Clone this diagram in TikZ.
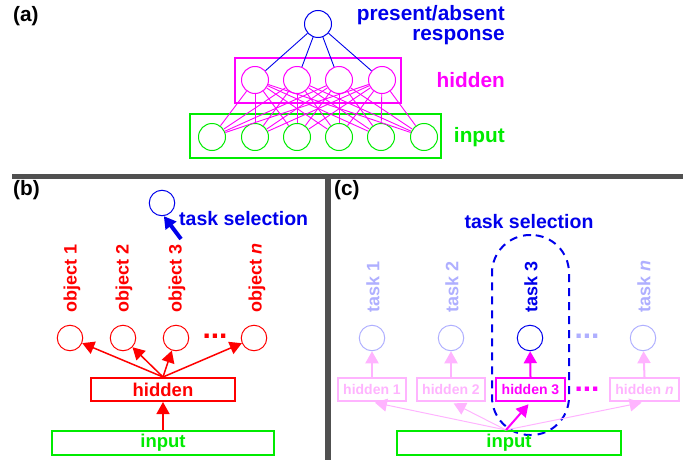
\documentclass[tikz,border=0pt]{standalone}
\usepackage{fontspec}
\setmainfont{Liberation Sans}
\usetikzlibrary{arrows.meta}
\definecolor{cblue}{RGB}{0,0,235}
\definecolor{cmag}{RGB}{255,0,255}
\definecolor{cgreen}{RGB}{0,235,0}
\definecolor{cred}{RGB}{255,0,0}
\definecolor{lblue}{RGB}{175,175,255}
\definecolor{lpink}{RGB}{255,180,255}
\definecolor{sepgray}{RGB}{80,80,80}
\begin{document}
\begin{tikzpicture}[x=1pt,y=-1pt,
  big/.style={font=\bfseries\fontsize{19.5}{22}\selectfont, inner sep=0pt},
  biga/.style={font=\bfseries\fontsize{20.8}{20}\selectfont, inner sep=0pt},
  mid/.style={font=\bfseries\fontsize{18.5}{22}\selectfont, inner sep=0pt},
  small/.style={font=\bfseries\fontsize{14}{16}\selectfont, inner sep=0pt},
  neuron/.style={circle, draw, line width=1pt, minimum size=27pt, inner sep=0pt},
  unit/.style={circle, draw, line width=1pt, minimum size=25.5pt, inner sep=0pt},
  box/.style={draw, line width=2pt, inner sep=0pt},
  tip/.style={-{Triangle[length=12pt,width=13pt]}},
  dotsty/.style={font=\bfseries\fontsize{30}{30}\selectfont, inner sep=0pt, anchor=base},
  vlab/.style={rotate=90, anchor=west, inner sep=0pt, font=\bfseries\fontsize{18}{20}\selectfont},
]
\useasboundingbox (0,0) rectangle (690,460);

% separators
\draw[sepgray, line width=5.5pt] (12,176.7) -- (683,176.7);
\draw[sepgray, line width=5.7pt] (328,174) -- (328,460);

% panel labels
\node[biga, anchor=base west] (pa) at (13,22) {(a)};
\node[biga, anchor=base west] (pb) at (13,195) {(b)};
\node[biga, anchor=base west] (pc) at (334,195) {(c)};

% ---------------- panel (a)
\node[box, draw=cmag, minimum width=166pt, minimum height=45pt] (ahbox) at (318,80.5) {};
\node[box, draw=cgreen, minimum width=251pt, minimum height=44pt] (aibox) at (315.5,136) {};
\node[neuron, draw=cblue] (aout) at (318,24) {};
\foreach \i/\x in {1/255,2/297,3/339,4/382}
  \node[neuron, draw=cmag] (ah\i) at (\x,80) {};
\foreach \j/\x in {1/212,2/255,3/297,4/339,5/381,6/424}
  \node[neuron, draw=cgreen] (ai\j) at (\x,137) {};
\foreach \i in {1,...,4} {
  \draw[cblue, line width=0.9pt] (aout) -- (ah\i);
  \foreach \j in {1,...,6}
    \draw[cmag, line width=0.9pt] (ah\i) -- (ai\j);
}
\node[biga, text=cblue, align=right, anchor=east] (la1) at (505,24.7) {present/absent\\response};
\node[biga, text=cmag, anchor=base east] (la3) at (505,87) {hidden};
\node[biga, text=cgreen, anchor=base east] (la4) at (505,142) {input};

% ---------------- panel (b)
\node[unit, draw=cblue] (bsel) at (162,203) {};
\node[big, text=cblue, anchor=base west] (bseltext) at (179,225) {task selection};
\coordinate (bselfrom) at (181,239);
\draw[cblue, line width=4pt, -{Triangle[length=12pt,width=13pt]}] (bselfrom) -- (bsel.-82);

\node[vlab, text=cred] (bl1) at (72,313) {object 1};
\node[vlab, text=cred] (bl2) at (124,313) {object 2};
\node[vlab, text=cred] (bl3) at (177,313) {object 3};
\node[vlab, text=cred] (bln) at (257,313) {object \textit{n}};

\node[unit, draw=cred] (bo1) at (70,338) {};
\node[unit, draw=cred] (bo2) at (123,338) {};
\node[unit, draw=cred] (bo3) at (176,338) {};
\node[unit, draw=cred] (bon) at (254,338) {};
\node[dotsty, text=cred] (bdots) at (215,338) {...};

\node[box, mid, draw=cred, text=cred, minimum width=144pt, minimum height=23pt] (bhid) at (163,389.5) {hidden};
\node[box, mid, draw=cgreen, text=cgreen, minimum width=222pt, minimum height=24pt] (binp) at (163,443) {input};
\foreach \o in {bo1,bo2,bo3,bon}
  \draw[cred, line width=1.5pt, tip] (bhid.north) -- (\o);
\draw[cred, line width=1.5pt, tip] (binp.north) -- (bhid.south);

% ---------------- panel (c)
\node[big, text=cblue, anchor=base] (cseltext) at (529,228) {task selection};
\node[draw=cblue, line width=2pt, dash pattern=on 8pt off 6pt, rounded corners=38pt,
      minimum width=77pt, minimum height=200pt, inner sep=0pt] (csel) at (530.5,335) {};

\node[vlab, text=lblue] (cl1) at (373,313) {task 1};
\node[vlab, text=lblue] (cl2) at (452,313) {task 2};
\node[vlab, text=cblue] (cl3) at (531,313) {task 3};
\node[vlab, text=lblue] (cln) at (644,313) {task \textit{n}};

\node[unit, draw=lblue] (ct1) at (372,338) {};
\node[unit, draw=lblue] (ct2) at (451,338) {};
\node[unit, draw=cblue] (ct3) at (530,338) {};
\node[unit, draw=lblue] (ctn) at (643,338) {};
\node[dotsty, text=lblue] (ctdots) at (587,338) {...};

\node[box, small, draw=lpink, text=lpink, minimum width=68pt, minimum height=23pt] (ch1) at (372,389.5) {hidden 1};
\node[box, small, draw=lpink, text=lpink, minimum width=68pt, minimum height=23pt] (ch2) at (451,389.5) {hidden 2};
\node[box, small, draw=cmag, text=cmag, minimum width=69pt, minimum height=23pt] (ch3) at (530.5,389.5) {hidden 3};
\node[box, small, draw=lpink, text=lpink, minimum width=69pt, minimum height=23pt] (chn) at (644.5,389.5) {hidden \textit{n}};
\node[dotsty, text=cmag] (chdots) at (587,391) {...};

\draw[lpink, line width=2pt, tip] (ch1.north) -- (ct1);
\draw[lpink, line width=2pt, tip] (ch2.north) -- (ct2);
\draw[cmag, line width=2pt, tip] (ch3.north) -- (ct3);
\draw[lpink, line width=2pt, tip] (chn.north) -- (ctn);

\node[box, mid, draw=cgreen, text=cgreen, minimum width=224pt, minimum height=24pt] (cinp) at (509,443) {input};
\coordinate (cfan) at (506,430);
\draw[lpink, line width=1pt, tip, shorten >=3pt] (cfan) -- (ch1.south);
\draw[lpink, line width=1pt, tip, shorten >=3pt] (cfan) -- (ch2.south);
\draw[lpink, line width=1pt, tip, shorten >=3pt] (cfan) -- (chn.south);
\draw[cmag, line width=2pt, tip, shorten >=3pt] (cfan) -- (ch3.south);
\end{tikzpicture}
\end{document}
